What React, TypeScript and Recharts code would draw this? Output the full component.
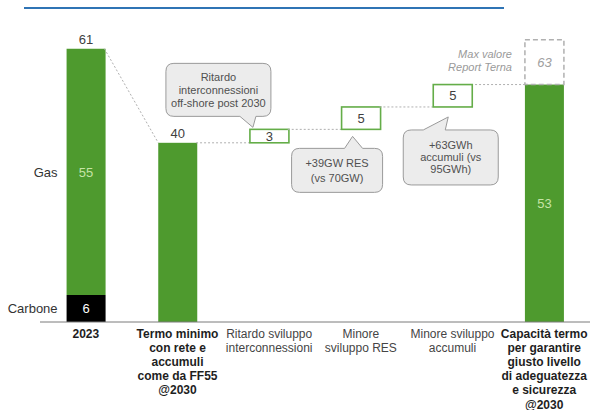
import React from 'react';
import { BarChart, Bar, XAxis, YAxis, LabelList } from 'recharts';

// ---------- data ----------
const categories = [
  '2023',
  'Termo minimo con rete e accumuli come da FF55 @2030',
  'Ritardo sviluppo interconnessioni',
  'Minore sviluppo RES',
  'Minore sviluppo accumuli',
  'Capacità termo per garantire giusto livello di adeguatezza e sicurezza @2030',
];
const tickLines = [
  ['2023'],
  ['Termo minimo', 'con rete e', 'accumuli', 'come da FF55', '@2030'],
  ['Ritardo sviluppo', 'interconnessioni'],
  ['Minore', 'sviluppo RES'],
  ['Minore sviluppo', 'accumuli'],
  ['Capacità termo', 'per garantire', 'giusto livello', 'di adeguatezza', 'e sicurezza', '@2030'],
];
const tickBold = [true, true, false, false, false, true];
const carbone = [6, 0, 0, 0, 0, 0];
const gas = [55, 0, 0, 0, 0, 0];
const termo = [0, 40, 0, 0, 0, 53];
const deltaBase = [0, 0, 40, 43, 48, 0];
const delta = [0, 0, 3, 5, 5, 0];
const maxExtra = [0, 0, 0, 0, 0, 10];
const maxTotal = [null, null, null, null, null, 63];
const fuelNames = ['Carbone', 'Gas'];
const maxNote = ['Max valore', 'Report Terna'];
const calloutTexts: (string[] | null)[] = [
  null,
  null,
  ['Ritardo', 'interconnessioni', 'off-shore post 2030'],
  ['+39GW RES', '(vs 70GW)'],
  ['+63GWh', 'accumuli (vs', '95GWh)'],
  null,
];

// ---------- style / layout ----------
const GREEN = '#4e9a2e';
const GREEN_LINE = '#64ad48';
const LIGHT_GREEN = '#c6e4a6';
const TEXT = '#404040';
const BAR_GAP = 0.29;
const FONT = '"Liberation Sans", Arial, sans-serif';
const CONNECTOR = { stroke: '#b0b0b0', strokeWidth: 1, strokeDasharray: '2 2' };

// callout geometry relative to the box (left x, anchor = top or bottom of box)
const calloutLayout: any[] = [
  null,
  null,
  { anchor: 'top', dx: -84, dy: -66, w: 105, h: 53, side: 'bottom', t1: -10, t2: 6, tipX: 3, tipY: -2, lineH: 13 },
  { anchor: 'bottom', dx: -50, dy: 19, w: 91, h: 44, side: 'top', t1: 3, t2: 21, tipX: 11, tipY: 7, lineH: 15 },
  { anchor: 'bottom', dx: -30, dy: 23, w: 95, h: 55, side: 'top', t1: -10, t2: 12, tipX: 15, tipY: 10, lineH: 12 },
  null,
];

const data = categories.map((name, i) => ({
  name,
  carbone: carbone[i],
  gas: gas[i],
  termo: termo[i],
  base: deltaBase[i],
  delta: delta[i],
  maxExtra: maxExtra[i],
  carboneVal: carbone[i] || null,
  gasVal: gas[i] || null,
  carboneName: carbone[i] ? fuelNames[0] : null,
  gasName: gas[i] ? fuelNames[1] : null,
  topLabel: gas[i] ? carbone[i] + gas[i] : null,
  termoTop: termo[i] && !maxExtra[i] ? termo[i] : null,
  termoIn: termo[i] && maxExtra[i] ? termo[i] : null,
  deltaVal: delta[i] || null,
  maxTotal: maxTotal[i],
}));

// running levels used by the waterfall connectors
const tops = categories.map((_, i) => carbone[i] + gas[i] + termo[i] + deltaBase[i] + delta[i]);
const lefts = categories.map((_, i) => (delta[i] > 0 ? deltaBase[i] : tops[i]));

const hideEmpty = (v: any) => (v == null || v === 0 ? '' : v);

// connector entering bar i, derived from the bar's own pixel geometry
function Connector({ x, width, baseline, ppu, index }: any) {
  if (index < 1) return null;
  const step = width / (1 - 2 * BAR_GAP);
  const gap = step - width;
  const y0 = baseline - tops[index - 1] * ppu;
  const y1 = baseline - lefts[index] * ppu;
  return <line x1={x - gap} y1={y0} x2={x} y2={y1} {...CONNECTOR} />;
}

function calloutPath(x: number, y: number, w: number, h: number, r: number, side: string, t1: number, t2: number, tx: number, ty: number) {
  let d = `M${x + r},${y}`;
  if (side === 'top') d += ` L${t1},${y} L${tx},${ty} L${t2},${y}`;
  d += ` L${x + w - r},${y} Q${x + w},${y} ${x + w},${y + r}`;
  d += ` L${x + w},${y + h - r} Q${x + w},${y + h} ${x + w - r},${y + h}`;
  if (side === 'bottom') d += ` L${t2},${y + h} L${tx},${ty} L${t1},${y + h}`;
  d += ` L${x + r},${y + h} Q${x},${y + h} ${x},${y + h - r}`;
  d += ` L${x},${y + r} Q${x},${y} ${x + r},${y} Z`;
  return d;
}

const TermoShape = (props: any) => {
  const { x, y, width, height, index } = props;
  if (!height || height <= 0) return <g />;
  const ppu = height / termo[index];
  const baseline = y + height;
  return (
    <g>
      <Connector x={x} width={width} baseline={baseline} ppu={ppu} index={index} />
      <rect x={x} y={y} width={width} height={height} fill={GREEN} />
    </g>
  );
};

const DeltaShape = (props: any) => {
  const { x, y, width, height, index } = props;
  if (!height || height <= 0) return <g />;
  const ppu = height / delta[index];
  const baseline = y + height + deltaBase[index] * ppu;
  const texts = calloutTexts[index];
  const L = calloutLayout[index];
  let callout = null;
  if (texts && L) {
    const ay = L.anchor === 'top' ? y : y + height;
    const cx = x + L.dx;
    const cy = ay + L.dy;
    const d = calloutPath(cx, cy, L.w, L.h, 8, L.side, x + L.t1, x + L.t2, x + L.tipX, ay + L.tipY);
    const midY = cy + L.h / 2;
    const n = texts.length;
    callout = (
      <g>
        <path d={d} fill="#ececec" stroke="#9a9a9a" strokeWidth={1} />
        {texts.map((t, k) => (
          <text
            key={k}
            x={cx + L.w / 2}
            y={midY + (k - (n - 1) / 2) * L.lineH}
            textAnchor="middle"
            dominantBaseline="central"
            fontSize={11}
            fill="#505050"
            fontFamily={FONT}
          >
            {t}
          </text>
        ))}
      </g>
    );
  }
  return (
    <g>
      <Connector x={x} width={width} baseline={baseline} ppu={ppu} index={index} />
      <rect x={x} y={y} width={width} height={height} fill="#ffffff" stroke={GREEN_LINE} strokeWidth={1.6} />
      {callout}
    </g>
  );
};

const MaxShape = (props: any) => {
  const { x, y, width, height } = props;
  if (!height || height <= 0) return <g />;
  return (
    <g>
      <rect x={x} y={y} width={width} height={height} fill="none" stroke="#b0b0b0" strokeWidth={1.5} strokeDasharray="5 3" />
      {maxNote.map((t, k) => (
        <text
          key={k}
          x={x - 13}
          y={y + height / 2 - 8 + k * 13}
          textAnchor="end"
          dominantBaseline="central"
          fontSize={11}
          fontStyle="italic"
          fill="#9a9a9a"
          fontFamily={FONT}
        >
          {t}
        </text>
      ))}
    </g>
  );
};

const Tick = (props: any) => {
  const { x, y, payload } = props;
  let index = props.index;
  if (index == null) index = categories.indexOf(payload?.value);
  const lines = tickLines[index] || [String(payload?.value)];
  const bold = tickBold[index];
  return (
    <text
      x={x}
      y={y}
      textAnchor="middle"
      fontSize={12}
      fontWeight={bold ? 'bold' : 'normal'}
      fill={bold ? '#1e1e1e' : '#454545'}
      fontFamily={FONT}
    >
      {lines.map((l, k) => (
        <tspan key={k} x={x} dy={k === 0 ? 7.5 : 14.2}>
          {l}
        </tspan>
      ))}
    </text>
  );
};

export default function App() {
  return (
    <div style={{ position: 'absolute', left: 0, top: 0, width: 590, height: 410, background: '#fff', fontFamily: FONT }}>
      <div style={{ position: 'absolute', left: 24, top: 7, width: 480, height: 2, background: '#2f74b5' }} />
      <div style={{ position: 'absolute', left: 0, top: 0 }}>
        <BarChart
          width={590}
          height={410}
          data={data}
          margin={{ top: 8.4, right: 0, bottom: 0, left: 40 }}
          barCategoryGap={`${BAR_GAP * 100}%`}
        >
          <XAxis
            dataKey="name"
            axisLine={{ stroke: '#7a7a7a', strokeWidth: 1 }}
            tickLine={false}
            interval={0}
            height={88}
            tick={(p: any) => <Tick {...p} />}
          />
          <YAxis hide domain={[0, 70]} />
          <Bar dataKey="carbone" stackId="a" fill="#000000" isAnimationActive={false}>
            <LabelList dataKey="carboneVal" position="center" fill="#ffffff" fontSize={13} formatter={hideEmpty} />
            <LabelList dataKey="carboneName" position="left" offset={9} fill="#333" fontSize={13} formatter={hideEmpty} />
          </Bar>
          <Bar dataKey="gas" stackId="a" fill={GREEN} isAnimationActive={false}>
            <LabelList dataKey="gasVal" position="center" fill={LIGHT_GREEN} fontSize={13} formatter={hideEmpty} />
            <LabelList dataKey="gasName" position="left" offset={9} fill="#333" fontSize={13} formatter={hideEmpty} />
            <LabelList dataKey="topLabel" position="top" offset={5} fill={TEXT} fontSize={13} formatter={hideEmpty} />
          </Bar>
          <Bar dataKey="termo" stackId="a" shape={(p: any) => <TermoShape {...p} />} isAnimationActive={false}>
            <LabelList dataKey="termoTop" position="top" offset={5} fill={TEXT} fontSize={13} formatter={hideEmpty} />
            <LabelList dataKey="termoIn" position="center" fill={LIGHT_GREEN} fontSize={13} formatter={hideEmpty} />
          </Bar>
          <Bar dataKey="base" stackId="a" fill="transparent" isAnimationActive={false} />
          <Bar dataKey="delta" stackId="a" shape={(p: any) => <DeltaShape {...p} />} isAnimationActive={false}>
            <LabelList dataKey="deltaVal" position="center" fill={TEXT} fontSize={13} formatter={hideEmpty} />
          </Bar>
          <Bar dataKey="maxExtra" stackId="a" shape={(p: any) => <MaxShape {...p} />} isAnimationActive={false}>
            <LabelList dataKey="maxTotal" position="center" fill="#a0a0a0" fontSize={13} fontStyle="italic" formatter={hideEmpty} />
          </Bar>
        </BarChart>
      </div>
    </div>
  );
}
